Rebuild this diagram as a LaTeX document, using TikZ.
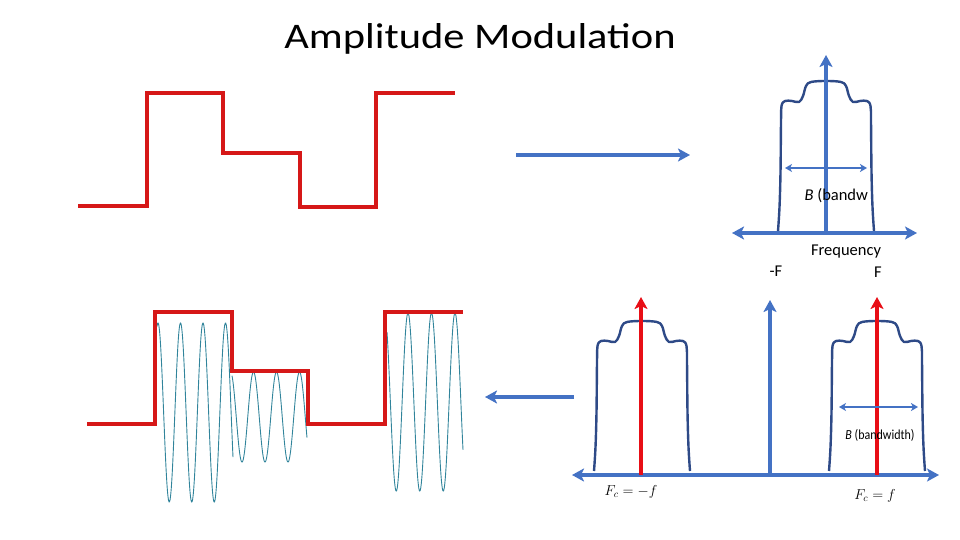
\documentclass[tikz,border=0pt]{standalone}
\usepackage{fontspec}
\setmainfont{Carlito}
\usepackage{tikz}
\usetikzlibrary{arrows.meta}
\definecolor{sigred}{RGB}{214,24,24}
\definecolor{carred}{RGB}{232,14,22}
\definecolor{axblue}{RGB}{68,114,196}
\definecolor{lobenavy}{RGB}{46,74,135}
\definecolor{waveteal}{RGB}{49,132,155}

\begin{document}
\begin{tikzpicture}[x=1pt,y=-1pt,
    sig/.style={sigred,line width=3.5pt},
    axis/.style={axblue,line width=3.2pt,-{Stealth[length=12pt,width=13pt,inset=3pt]}},
    axistwo/.style={axblue,line width=3.2pt,{Stealth[length=12pt,width=13pt,inset=3pt]}-{Stealth[length=12pt,width=13pt,inset=3pt]}},
    bwarrow/.style={axblue,line width=2pt,{Stealth[length=7pt,width=8pt,inset=2pt]}-{Stealth[length=7pt,width=8pt,inset=2pt]}},
    carrier/.style={carred,line width=4pt,-{Stealth[length=12pt,width=13pt,inset=3pt]}},
    wave/.style={waveteal,line width=0.9pt,samples=240,smooth},
    lbl/.style={font=\fontsize{16.5}{19}\selectfont},
    lobe/.pic={\draw[lobenavy,line width=2.4pt,line join=round] plot[smooth,tension=0.6] coordinates {
        (-48,-1) (-46.5,-25) (-45.5,-60) (-45,-110) (-44.5,-126) (-41,-131) (-34,-131) (-27,-130)
        (-23,-136) (-20,-146) (-15,-150) (0,-151) (15,-150) (20,-146) (23,-136)
        (27,-130) (34,-131) (41,-131) (44.5,-126) (45,-110) (45.5,-60) (46.5,-25) (48,-1)};}]

\useasboundingbox (0,0) rectangle (960,540);

% title
\node[font=\fontsize{36}{40}\selectfont] (title) at (480,39) {\scalebox{1.18}[1]{Amplitude Modulation}};

% message signal
\draw[sig] (78,206) -- (147,206) -- (147,93) -- (223,93) -- (223,153) -- (300,153)
    -- (300,207) -- (376,207) -- (376,93) -- (455,93);

\coordinate (fwdA) at (516,155);
\coordinate (fwdB) at (690,155);
\draw[axis] (fwdA) -- (fwdB);

% baseband spectrum
\pic at (826,232) {lobe};
\coordinate (bbO) at (826,233);
\coordinate (bbTop) at (826,55);
\coordinate (bbL) at (732,233);
\coordinate (bbR) at (917,233);
\draw[axis] (bbO) -- (bbTop);
\draw[axistwo] (bbL) -- (bbR);
\coordinate (bwL) at (785,168);
\coordinate (bwR) at (867,168);
\draw[bwarrow] (bwL) -- (bwR);
\node[lbl,anchor=west] (bwtxt) at (801,196) {\textit{B} (bandw};
\node[lbl] (freq) at (846,252) {Frequency};
\node[lbl] (negF) at (776,271) {-F};
\node[lbl] (posF) at (878,272) {F};

% modulated spectrum
\pic at (642,472) {lobe};
\pic at (877,472) {lobe};
\coordinate (mO) at (770,475);
\coordinate (mTop) at (770,300);
\coordinate (mL) at (572,475);
\coordinate (mR) at (939,475);
\draw[axis] (mO) -- (mTop);
\draw[axistwo] (mL) -- (mR);
\coordinate (cnB) at (641,475);
\coordinate (cnT) at (641,297);
\coordinate (cpB) at (877,475);
\coordinate (cpT) at (877,297);
\draw[carrier] (cnB) -- (cnT);
\draw[carrier] (cpB) -- (cpT);
\coordinate (bw2L) at (839,407);
\coordinate (bw2R) at (918,407);
\draw[bwarrow] (bw2L) -- (bw2R);
\node[font=\fontsize{12}{15}\selectfont] (bwtxt2) at (880,435) {\scalebox{1}[1.15]{\textit{B} (bandwidth)}};
\node[font=\fontsize{14}{17}\selectfont] (fneg) at (631,492) {$F_c=-f$};
\node[font=\fontsize{14}{17}\selectfont] (fpos) at (875,496) {$F_c=f$};

\coordinate (backA) at (574,397);
\coordinate (backB) at (485,397);
\draw[axis] (backA) -- (backB);

% modulated carrier
\draw[wave,domain=157:233] plot (\x,{412.5-89.5*cos((\x-158)/22.5*360)});
\draw[wave,domain=232:307] plot (\x,{417-45*cos((\x-230.5)/23*360)});
\draw[wave,domain=387:463] plot (\x,{402-89*cos((\x-408)/23.5*360)});
\draw[sig] (87,424) -- (155,424) -- (155,312) -- (232,312) -- (232,371) -- (308,371)
    -- (308,424) -- (385,424) -- (385,312) -- (463,312);
\end{tikzpicture}
\end{document}
